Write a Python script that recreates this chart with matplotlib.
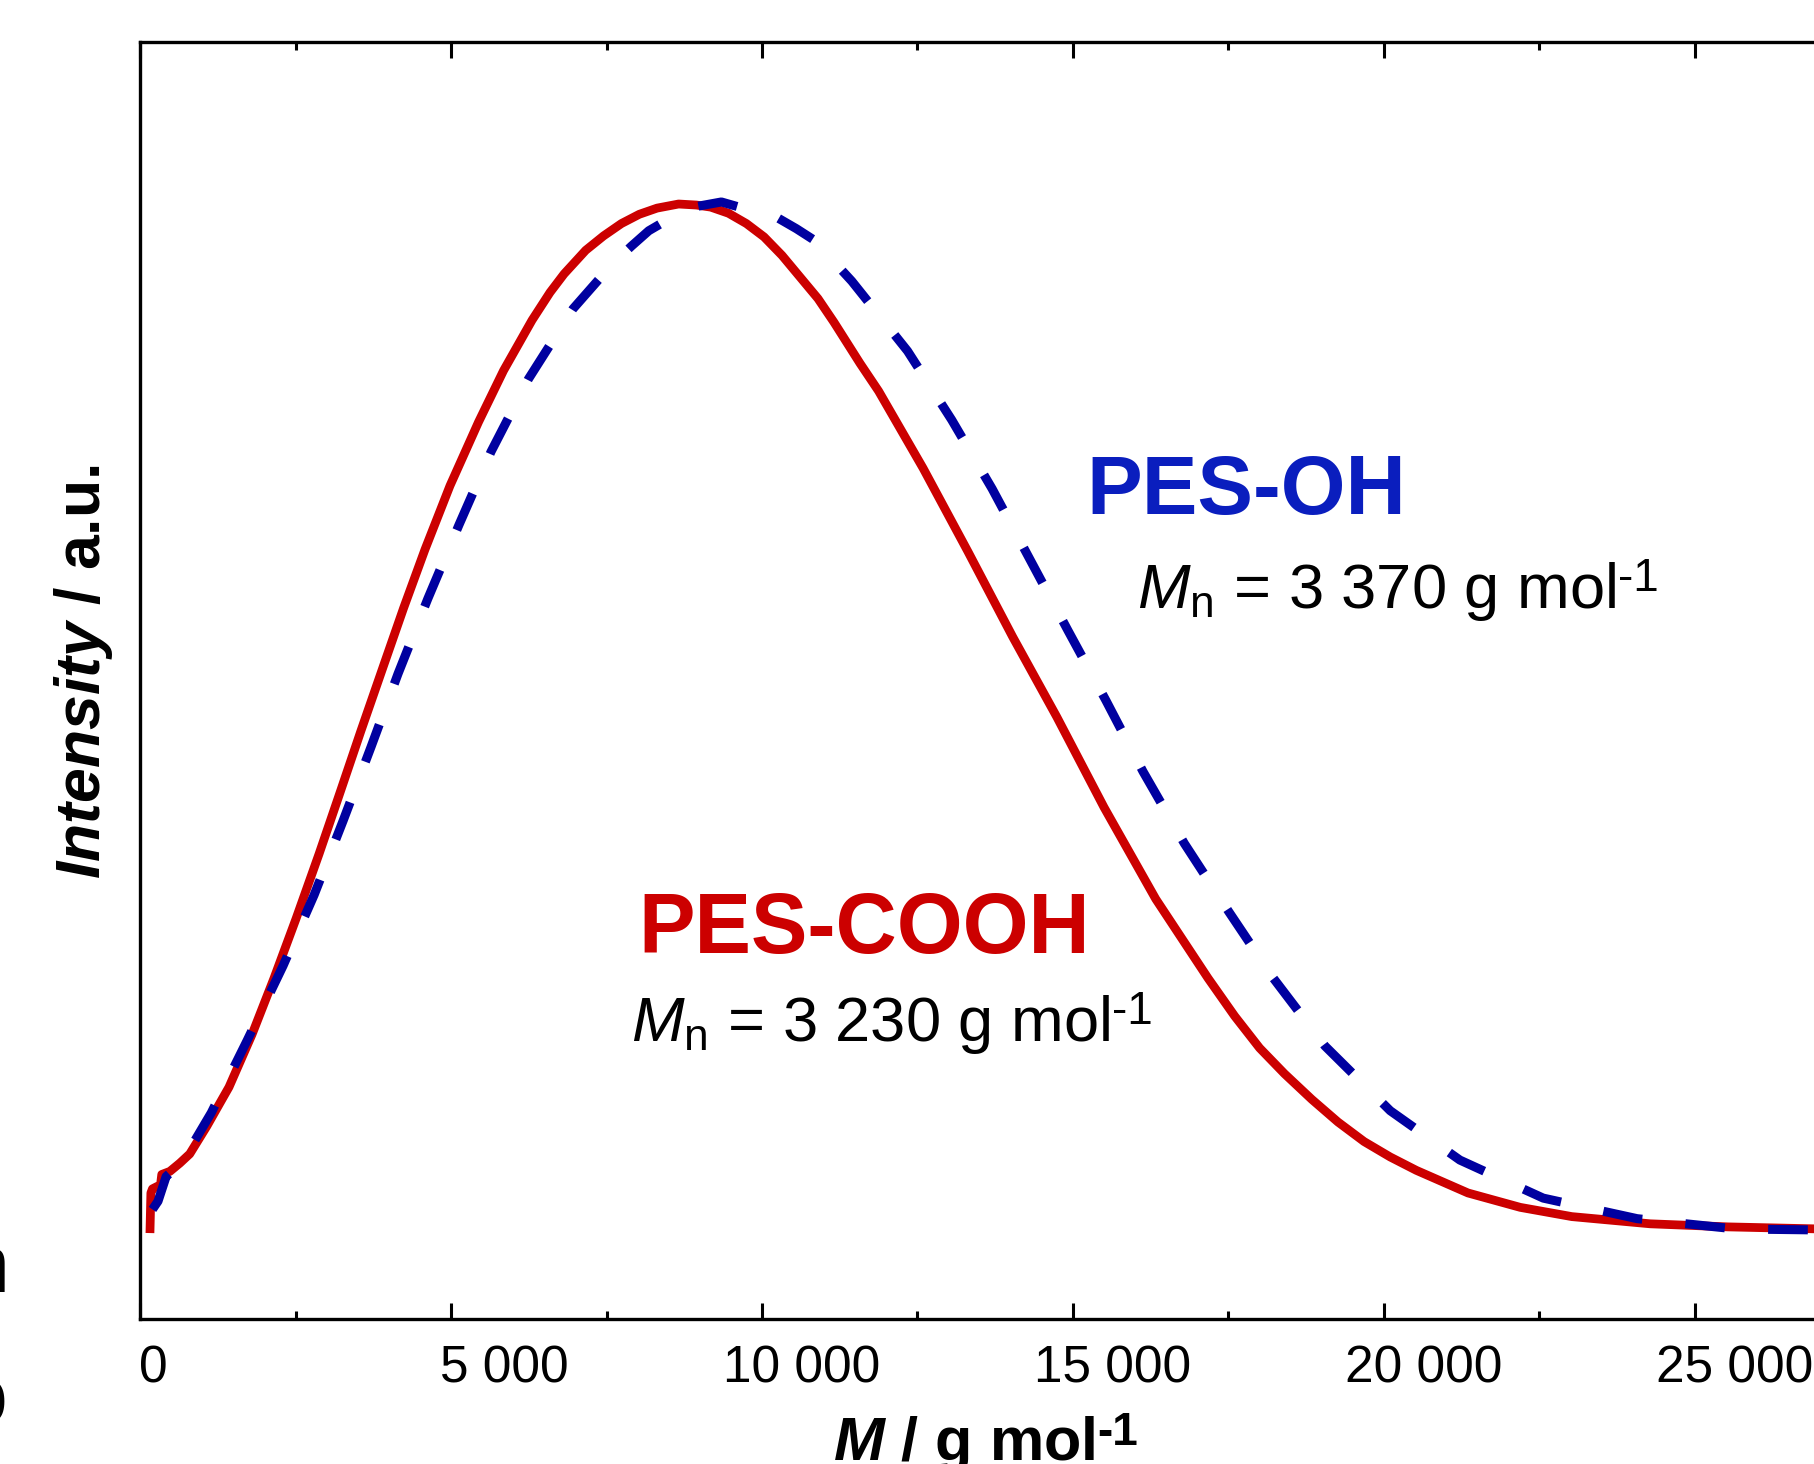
import matplotlib
matplotlib.use("Agg")
import matplotlib.pyplot as plt
from matplotlib.transforms import ScaledTranslation
from matplotlib.ticker import AutoMinorLocator

plt.rcParams['font.family'] = 'Liberation Sans'
plt.rcParams['mathtext.fontset'] = 'custom'
plt.rcParams['mathtext.rm'] = 'Liberation Sans'
plt.rcParams['mathtext.it'] = 'Liberation Sans:italic'
plt.rcParams['mathtext.bf'] = 'Liberation Sans:bold'
plt.rcParams['mathtext.bfit'] = 'Liberation Sans:italic:bold'

# molar mass distribution, normalised intensity
M_cooh = [160, 175, 200, 330, 350, 480, 640, 800, 1075, 1290, 1431, 1800, 2155,
          2510, 2880, 3230, 3549, 3893, 4238, 4582, 4984, 5443, 5845, 6303, 6592,
          6818, 7166, 7453, 7740, 8027, 8312, 8659, 8945, 9175, 9462, 9749, 10033,
          10322, 10900, 11157, 11576, 11875, 12590, 13310, 14030, 14740, 15500,
          16330, 17170, 17600, 18000, 18400, 18840, 19260, 19680, 20100, 20520,
          21350, 22190, 23020, 24280, 25530, 27000]
I_cooh = [-0.003, 0.036, 0.040, 0.044, 0.054, 0.057, 0.065, 0.074, 0.101, 0.124,
          0.139, 0.190, 0.245, 0.303, 0.366, 0.428, 0.485, 0.545, 0.605, 0.662,
          0.724, 0.786, 0.836, 0.885, 0.912, 0.930, 0.953, 0.967, 0.979, 0.988,
          0.994, 0.998, 0.997, 0.995, 0.989, 0.979, 0.966, 0.948, 0.906, 0.883,
          0.843, 0.816, 0.741, 0.660, 0.577, 0.499, 0.411, 0.322, 0.245, 0.208,
          0.177, 0.152, 0.127, 0.105, 0.086, 0.071, 0.058, 0.036, 0.022, 0.013,
          0.006, 0.003, 0.001]

M_oh = [200, 290, 420, 677, 1146, 1720, 2300, 2800, 3265, 3715, 4148, 4627, 5129,
        5643, 6247, 6961, 7600, 7900, 8180, 8802, 9347, 10267, 10553, 10836,
        11443, 12340, 13050, 13700, 14310, 14920, 15530, 16125, 16790, 17500,
        18220, 19050, 20100, 21220, 22560, 24070, 25650, 27000]
I_oh = [0.020, 0.028, 0.052, 0.066, 0.114, 0.184, 0.257, 0.326, 0.398, 0.470,
        0.541, 0.614, 0.686, 0.757, 0.828, 0.896, 0.940, 0.957, 0.972, 0.994,
        1.000, 0.984, 0.974, 0.963, 0.923, 0.855, 0.788, 0.721, 0.652, 0.583,
        0.515, 0.446, 0.376, 0.310, 0.245, 0.179, 0.116, 0.068, 0.031, 0.011,
        0.001, 0.000]

xticks = [0, 5000, 10000, 15000, 20000, 25000]
xticklabels = ['0', '5 000', '10 000', '15 000', '20 000', '25 000']

W, H = 1815, 1464
fig = plt.figure(figsize=(W / 100, H / 100), dpi=100)


def px(x, y):
    return x / W, 1 - y / H


# axes run past the right edge of the figure
ax = fig.add_axes([140 / W, (H - 1319) / H, 1741.6 / W, 1277 / H])
ax.set_xlim(0, 28000)
ax.set_ylim(-0.0866, 1.1556)

ax.plot(M_cooh, I_cooh, color='#CC0000', lw=6.3, solid_capstyle='butt',
        solid_joinstyle='round', zorder=2)
ax.plot(M_oh, I_oh, color='#0000A0', lw=6.5, dashes=(4.4, 4.8),
        dash_capstyle='butt', zorder=3)

for s in ax.spines.values():
    s.set_linewidth(2.4)

ax.set_yticks([])
ax.set_xticks(xticks, labels=xticklabels)
ax.xaxis.set_minor_locator(AutoMinorLocator(2))
ax.tick_params(axis='x', which='both', direction='in', top=True, bottom=True,
               width=2.2, labelsize=37, pad=18.5)
ax.tick_params(axis='x', which='major', length=11.5)
ax.tick_params(axis='x', which='minor', length=5.8)

# labels sit right-aligned a little to the right of each tick
for lbl in ax.get_xticklabels():
    dx = 28 if lbl.get_text() == '0' else 118
    lbl.set_horizontalalignment('right')
    lbl.set_transform(lbl.get_transform() +
                      ScaledTranslation(dx / 100, 0, fig.dpi_scale_trans))


def sup(base, txt, size, **kw):
    # small raised text glued to the end of another text
    ax.annotate(txt, xy=(1, 1), xycoords=base, xytext=(1.5, 2),
                textcoords='offset points', fontsize=size, ha='left',
                va='top', annotation_clip=False, **kw)


xl = fig.text(*px(833, 1460), r'$\mathbfit{M}$ / g mol', fontsize=44,
              fontweight='bold', ha='left', va='baseline')
sup(xl, '-1', 33, fontweight='bold')
fig.text(*px(84, 672), r'$\mathbfit{Intensity}$ / a.u.', fontsize=45,
         fontweight='bold', rotation=90, ha='center', va='center')

fig.text(*px(1086, 514), 'PES-OH', fontsize=60, fontweight='bold',
         color='#0A1EBE', ha='left', va='baseline')
t1 = fig.text(*px(1137, 608), r'$M_\mathregular{n}$ = 3 370 g mol',
              fontsize=45.5, ha='left', va='baseline')
sup(t1, '-1', 33)
fig.text(*px(638, 953), 'PES-COOH', fontsize=61, fontweight='bold',
         color='#CC0000', ha='left', va='baseline')
t2 = fig.text(*px(631, 1041), r'$M_\mathregular{n}$ = 3 230 g mol',
              fontsize=45.5, ha='left', va='baseline')
sup(t2, '-1', 33)

# edges of the neighbouring panel's label
fig.text(*px(9, 1292), 'n', fontsize=58, ha='right', va='baseline')
fig.text(*px(7, 1423), 'o', fontsize=58, ha='right', va='baseline')

fig.savefig('out.png', dpi=100)
